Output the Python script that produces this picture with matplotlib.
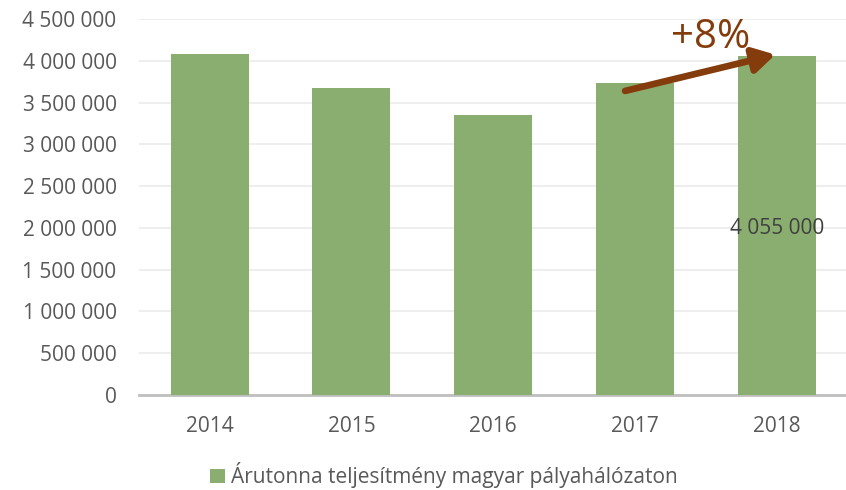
import matplotlib
matplotlib.use("Agg")
import matplotlib.pyplot as plt
from matplotlib.ticker import FuncFormatter

years = ["2014", "2015", "2016", "2017", "2018"]
values = [4080000, 3675000, 3350000, 3730000, 4055000]
series_name = "Árutonna teljesítmény magyar pályahálózaton"
label_text = "4 055 000"
growth_text = "+8%"

plt.rcParams['font.family'] = ['Open Sans', 'DejaVu Sans']

fig = plt.figure(figsize=(8.46, 4.9), dpi=100)
ax = fig.add_axes([0.164, 0.194, 0.838, 0.767])

bar_color = '#8aae70'
x = range(len(years))
bars = ax.bar(x, values, width=0.55, color=bar_color, label=series_name, zorder=3)

ax.set_xlim(-0.5, len(years) - 0.5)
ax.set_ylim(0, 4500000)
ax.set_yticks(range(0, 4500001, 500000))
ax.yaxis.set_major_formatter(FuncFormatter(lambda v, p: f"{int(v):,}".replace(",", " ")))
ax.set_xticks(list(x))
ax.set_xticklabels(years)

ax.grid(axis='y', color='#ebebeb', linewidth=1.2, zorder=0)
for s in ['top', 'right', 'left']:
    ax.spines[s].set_visible(False)
ax.spines['bottom'].set_color('#bfbfbf')
ax.spines['bottom'].set_linewidth(2)
ax.tick_params(axis='both', length=0, colors='#595959', labelsize=15)
ax.tick_params(axis='x', pad=15)
ax.tick_params(axis='y', pad=16)

# data label on 2018 bar
ax.text(4, values[4] / 2 - 30000, label_text, ha='center', va='center', fontsize=15, color='#404040', zorder=4)

# growth arrow
brown = '#843c0c'
ax.annotate('', xy=(3.99, values[4] + 20000), xytext=(2.93, values[3] - 90000),
            arrowprops=dict(arrowstyle='-|>,head_length=1.3,head_width=0.75', color=brown,
                            linewidth=4.8, shrinkA=0, shrinkB=0), zorder=5)
ax.text(3.53, 4280000, growth_text, ha='center', va='center', fontsize=29, color=brown, zorder=5)

leg = fig.legend(handles=[bars], labels=[series_name], loc='center', bbox_to_anchor=(0.525, 0.03),
                 frameon=False, fontsize=15, handlelength=0.7, handleheight=0.7, handletextpad=0.3)
for t in leg.get_texts():
    t.set_color('#595959')

fig.savefig("out.png", dpi=100)
